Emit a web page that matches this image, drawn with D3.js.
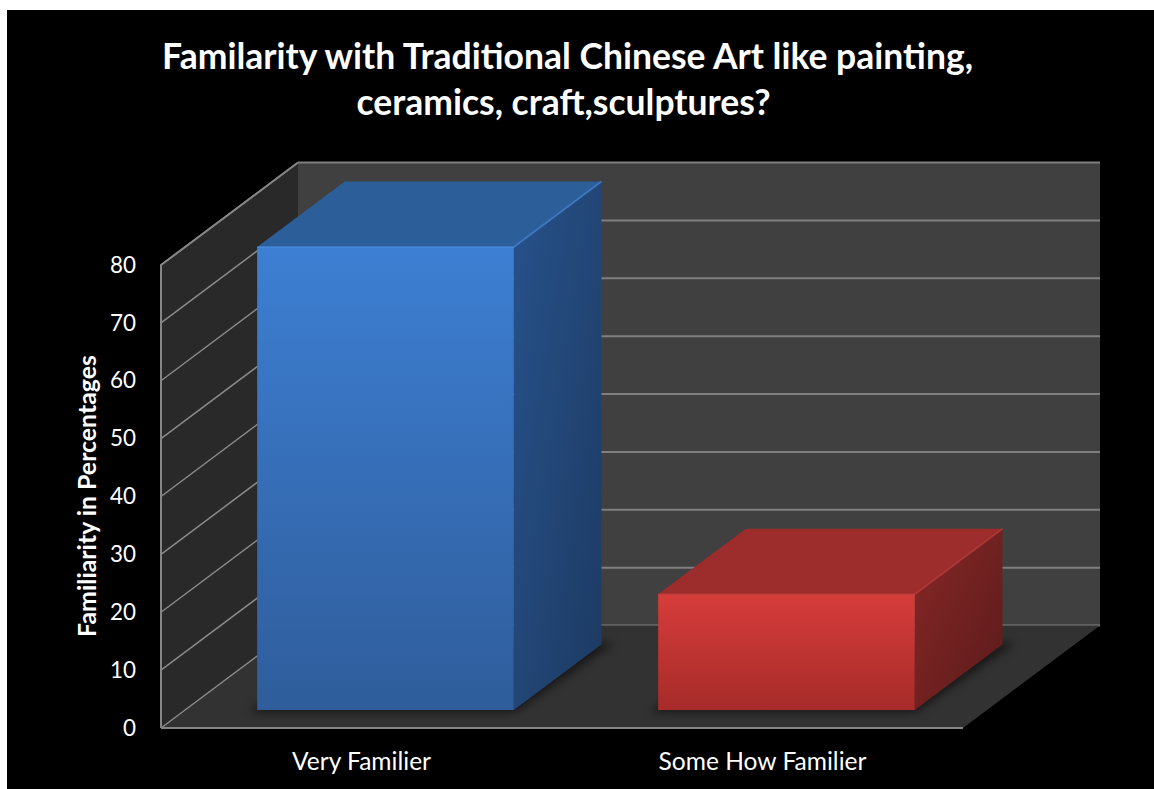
<!DOCTYPE html>
<html>
<head>
<meta charset="utf-8">
<script src="https://cdn.jsdelivr.net/npm/d3@7"></script>
<style>
  html, body { margin: 0; padding: 0; background: #ffffff; }
  svg { display: block; }
  text { font-family: Lato, "Open Sans", "DejaVu Sans", sans-serif; fill: #ffffff; }
</style>
</head>
<body>
<script>
// Chart content
const titleLines = ["Familarity with Traditional Chinese Art like painting,", "ceramics, craft,sculptures?"];
const categories = ["Very Familier", "Some How Familier"];
const values = [80, 20];
const yTicks = [0, 10, 20, 30, 40, 50, 60, 70, 80];
const yAxisTitle = "Familiarity in Percentages";

const W = 1154, H = 789;
const svg = d3.select("body").append("svg").attr("width", W).attr("height", H);
const defs = svg.append("defs");

// page + chart area
svg.append("rect").attr("width", W).attr("height", H).attr("fill", "#ffffff");
svg.append("rect").attr("x", 7).attr("y", 10).attr("width", W - 7).attr("height", H - 10).attr("fill", "#000000");

// scales: front plane of the 3D box, plus an oblique depth offset
const x = d3.scaleBand().domain(categories).range([161, 963]).paddingInner(0.36).paddingOuter(0.18);
const y = d3.scaleLinear().domain([0, 80]).range([728, 265]);
const DX = 137, DY = -102.5;           // full-depth offset
const P = (px, v, f) => [px + f * DX, y(v) + f * DY];
const [x0, x1] = x.range();
const [vMin, vMax] = y.domain();
const poly = pts => pts.map(p => p.join(",")).join(" ");

// walls and floor
svg.append("polygon")
  .attr("points", poly([P(x0, vMin, 0), P(x0, vMax, 0), P(x0, vMax, 1), P(x0, vMin, 1)]))
  .attr("fill", "#292929");
svg.append("polygon")
  .attr("points", poly([P(x0, vMax, 1), P(x1, vMax, 1), P(x1, vMin, 1), P(x0, vMin, 1)]))
  .attr("fill", "#404040");

// gridlines on the back wall
svg.append("g").selectAll("line").data(yTicks).join("line")
  .attr("x1", d => P(x0, d, 1)[0]).attr("y1", d => P(x0, d, 1)[1])
  .attr("x2", d => P(x1, d, 1)[0]).attr("y2", d => P(x1, d, 1)[1])
  .attr("stroke", "#7f7f7f").attr("stroke-width", 2);

// floor
svg.append("polygon")
  .attr("points", poly([P(x0, vMin, 0), P(x1, vMin, 0), P(x1, vMin, 1), P(x0, vMin, 1)]))
  .attr("fill", "#323232");

// gridlines on the side wall
svg.append("g").selectAll("line").data(yTicks).join("line")
  .attr("x1", d => P(x0, d, 0)[0]).attr("y1", d => P(x0, d, 0)[1])
  .attr("x2", d => P(x0, d, 1)[0]).attr("y2", d => P(x0, d, 1)[1])
  .attr("stroke", "#8a8a8a").attr("stroke-width", 1.5);

// outer edges of the side wall and front floor edge
svg.append("polyline")
  .attr("points", poly([P(x0, vMin, 0), P(x0, vMax, 0), P(x0, vMax, 1)]))
  .attr("fill", "none").attr("stroke", "#858585").attr("stroke-width", 2);
svg.append("line")
  .attr("x1", x0).attr("y1", y(vMin)).attr("x2", x1).attr("y2", y(vMin))
  .attr("stroke", "#858585").attr("stroke-width", 2);

// bars
const palettes = [
  { front: ["#3d7fd3", "#2f5d9b"], top: "#2c5e9a", side: ["#27528b", "#1d3a62"], edge: "#4a8de0" },
  { front: ["#d63d3b", "#a62b29"], top: "#9c2d2c", side: ["#862827", "#5b1a1a"], edge: "#c2403d" }
];
palettes.forEach((p, i) => {
  const gf = defs.append("linearGradient").attr("id", "front" + i)
    .attr("x1", 0).attr("y1", 0).attr("x2", 0).attr("y2", 1);
  gf.append("stop").attr("offset", "0%").attr("stop-color", p.front[0]);
  gf.append("stop").attr("offset", "100%").attr("stop-color", p.front[1]);
  const gs = defs.append("linearGradient").attr("id", "side" + i)
    .attr("x1", 0).attr("y1", 0).attr("x2", 1).attr("y2", 1);
  gs.append("stop").attr("offset", "0%").attr("stop-color", p.side[0]);
  gs.append("stop").attr("offset", "100%").attr("stop-color", p.side[1]);
});
defs.append("filter").attr("id", "soft").attr("x", "-20%").attr("y", "-20%").attr("width", "140%").attr("height", "140%")
  .append("feGaussianBlur").attr("stdDeviation", 5);

const F0 = 0.175, F1 = 0.815;     // bar depth span within the box
const bars = svg.append("g");
categories.forEach((c, i) => {
  const xa = x(c), xb = x(c) + x.bandwidth(), v = values[i], p = palettes[i];
  // soft shadow on the floor
  bars.append("polygon")
    .attr("points", poly([P(xa - 6, vMin, F0 - 0.02), P(xb + 4, vMin, F0 - 0.02), P(xb + 10, vMin, F1 + 0.02), P(xa, vMin, F1 + 0.02)]))
    .attr("fill", "#000").attr("opacity", 0.55).attr("filter", "url(#soft)");
  // right side
  bars.append("polygon")
    .attr("points", poly([P(xb, vMin, F0), P(xb, vMin, F1), P(xb, v, F1), P(xb, v, F0)]))
    .attr("fill", `url(#side${i})`);
  // top
  bars.append("polygon")
    .attr("points", poly([P(xa, v, F0), P(xb, v, F0), P(xb, v, F1), P(xa, v, F1)]))
    .attr("fill", p.top);
  // front
  bars.append("polygon")
    .attr("points", poly([P(xa, vMin, F0), P(xb, vMin, F0), P(xb, v, F0), P(xa, v, F0)]))
    .attr("fill", `url(#front${i})`);
  // bevel highlights along the top edges
  bars.append("polyline")
    .attr("points", poly([P(xa, v, F0), P(xb, v, F0), P(xb, v, F1)]))
    .attr("fill", "none").attr("stroke", p.edge).attr("stroke-width", 2).attr("opacity", 0.6);
});

// font fitting helper: scale a group of texts so that a reference text has the given width
function fit(sel, refNode, target) {
  const w = refNode.getComputedTextLength();
  const fs = parseFloat(d3.select(refNode).style("font-size"));
  sel.style("font-size", (fs * target / w) + "px");
}

// y axis
const yAxis = svg.append("g").attr("transform", `translate(${x0},0)`)
  .call(d3.axisLeft(y).tickValues(yTicks).tickSize(0).tickPadding(25));
yAxis.select(".domain").remove();
const yText = yAxis.selectAll("text").attr("fill", "#fff").style("fill", "#fff")
  .style("font-family", "Lato, 'Open Sans', sans-serif").style("font-size", "20px");
fit(yText, yText.filter(d => d === 80).node(), 26);

// x axis
const xAxis = svg.append("g").attr("transform", `translate(0,${y(vMin)})`)
  .call(d3.axisBottom(x).tickSize(0).tickPadding(42));
xAxis.select(".domain").remove();
const xText = xAxis.selectAll("text").attr("dy", "0").style("fill", "#fff")
  .style("font-family", "Lato, 'Open Sans', sans-serif").style("font-size", "20px");
fit(xText, xText.filter(d => d === categories[1]).node(), 208);

// y axis title
const yt = svg.append("text")
  .attr("transform", "translate(96,496) rotate(-90)")
  .attr("text-anchor", "middle").style("font-weight", "bold").style("font-size", "20px")
  .text(yAxisTitle);
fit(yt, yt.node(), 282);

// chart title
const tt = svg.append("g").selectAll("text").data(titleLines).join("text")
  .attr("x", (d, i) => i === 0 ? 567.5 : 563.5)
  .attr("y", (d, i) => 69 + i * 46)
  .attr("text-anchor", "middle").style("font-weight", "bold").style("font-size", "30px")
  .text(d => d);
fit(tt, tt.nodes()[0], 811);
</script>
</body>
</html>
